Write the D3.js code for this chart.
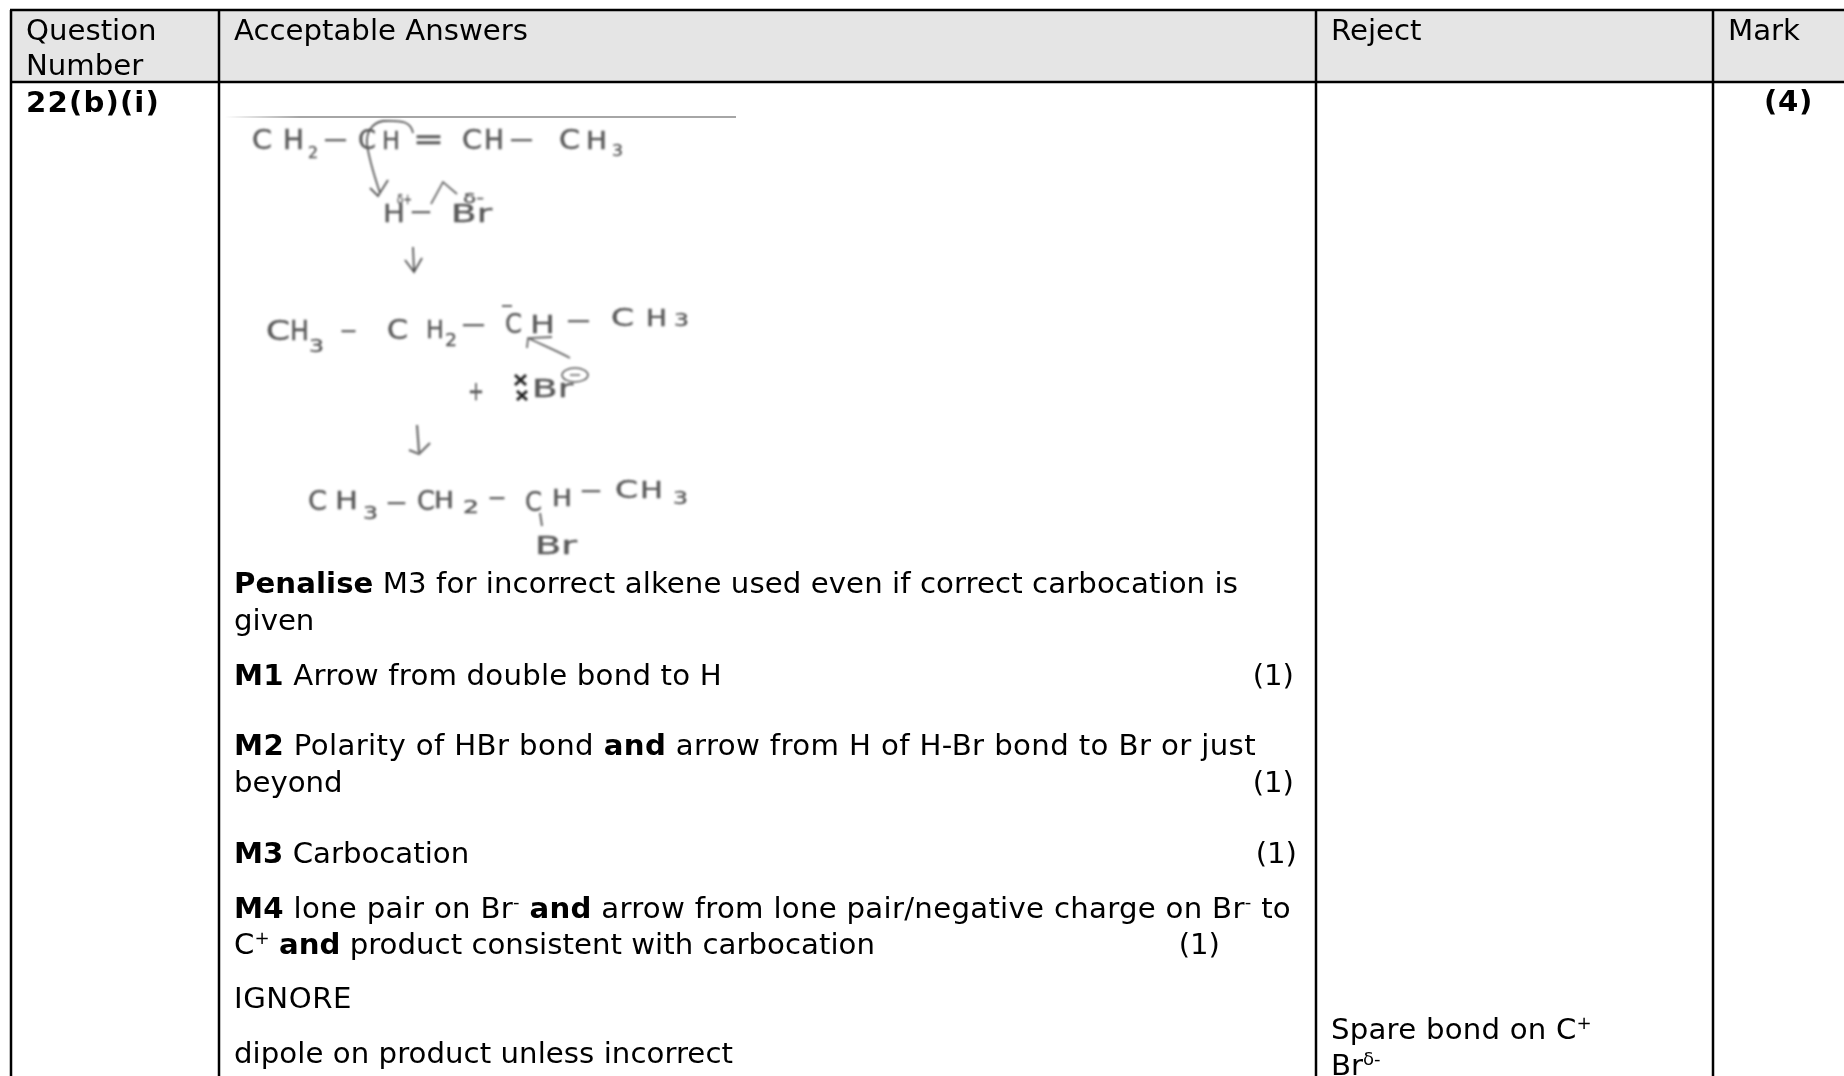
<!DOCTYPE html>
<html><head><meta charset="utf-8">
<style>html,body{margin:0;padding:0;background:#fff;overflow:hidden}svg{display:block}
text{font-family:"DejaVu Sans",sans-serif}</style>
<script src="https://cdn.jsdelivr.net/npm/d3@7/dist/d3.min.js"></script></head><body>
<script>
const columns = ["Question", "Answers", "Reject", "Mark"];
const headerLines = [["Question","Number"],["Acceptable Answers"],["Reject"],["Mark"]];
const questionId = "22(b)(i)";
const markTotal = "(4)";
const answerLines = [
 [["Penalise",1],[" M3 for incorrect alkene used even if correct carbocation is"]],
 [["given"]],
 [["M1",1],[" Arrow from double bond to H"]],
 [["M2",1],[" Polarity of HBr bond "],["and",1],[" arrow from H of H-Br bond to Br or just"]],
 [["beyond"]],
 [["M3",1],[" Carbocation"]],
 [["M4",1],[" lone pair on Br"],["-",0,1],[" "],["and",1],[" arrow from lone pair/negative charge on Br"],["-",0,1],[" to"]],
 [["C"],["+",0,1],[" "],["and",1],[" product consistent with carbocation"]],
 [["IGNORE"]],
 [["dipole on product unless incorrect"]]
];
const markLabels = ["(1)","(1)","(1)","(1)"];
const rejectLines = [[["Spare bond on C"],["+",0,1]],[["Br"],["δ-",0,1]]];
const sketchText = ["C","H","2","—","C","H","=","C","H","—","C","H","3","δ+","H","—","Br","δ-",
 "C","H","3","—","C","H","2","—","C","H","—","C","H","3","Br","+",
 "C","H","3","—","C","H","2","—","C","H","—","C","H","3","Br"];

// layout (separate from content)
const W=1844,H=1076;
const colX=d3.scaleOrdinal(columns,[11,219,1316,1713]);
const textX=d3.scaleOrdinal(columns,[26,234,1331,1728]);
const rowY=d3.scaleOrdinal(["top","head"],[10,82]);
const answerY=[593,630,685,755,792,863,918,954,1008,1063];
const answerEnd=[1238,0,722,1256,0,0,1291,875,352,733];
const markX=[1294,1294,1297,1220];
const markY=[685,792,863,954];
const rejectY=[1039,1075];
const rejectEnd=[1592,0];
const FS=29.2;

const svg=d3.select("body").append("svg").attr("width",W).attr("height",H);
const defs=svg.append("defs");
defs.append("filter").attr("id","b").attr("x","-20%").attr("y","-40%").attr("width","140%").attr("height","180%")
  .append("feGaussianBlur").attr("stdDeviation",0.95);
defs.append("filter").attr("id","t").attr("filterUnits","userSpaceOnUse").attr("x",0).attr("y",0).attr("width",W).attr("height",H)
  .append("feGaussianBlur").attr("stdDeviation",0.3);
const grad=defs.append("linearGradient").attr("id","fade").attr("gradientUnits","userSpaceOnUse").attr("x1",225).attr("x2",300).attr("y1",0).attr("y2",0);
grad.append("stop").attr("offset",0).attr("stop-color","#fff");
grad.append("stop").attr("offset",1).attr("stop-color","#888");

svg.append("rect").attr("x",colX("Question")).attr("y",rowY("top")).attr("width",W).attr("height",rowY("head")-rowY("top")).attr("fill","#e5e5e5");

const rules=svg.append("g").attr("stroke","#000").attr("stroke-width",2.5);
rowY.domain().forEach(r=>rules.append("line").attr("x1",colX("Question")-1).attr("x2",W).attr("y1",rowY(r)).attr("y2",rowY(r)));
columns.forEach(c=>rules.append("line").attr("x1",colX(c)).attr("x2",colX(c)).attr("y1",rowY("top")).attr("y2",H));

function rich(g,x,y,runs,end=0,fs=FS){
  const t=g.append("text").attr("x",x).attr("y",y).attr("font-size",fs).attr("fill","#000").style("white-space","pre");
  let prevSup=false;
  runs.forEach(([s,b,sup])=>{
    const sp=t.append("tspan").text(s);
    if(b)sp.attr("font-weight","bold");
    if(sup)sp.attr("font-size",fs*.62).attr("dy",-fs*.35);
    else if(prevSup)sp.attr("dy",fs*.35);
    prevSup=!!sup;
  });
  if(end){
    const n=t.text().length, len=t.node().getComputedTextLength();
    t.style("letter-spacing",((end-x-len)/n)+"px");
  }
  return t;
}
const body=svg.append("g").attr("filter","url(#t)");
headerLines.forEach((ls,i)=>ls.forEach((l,j)=>rich(body,textX(columns[i]),[40,75][j],[[l]])));
rich(body,textX("Question"),112,[[questionId,1]],160);
rich(body,1764,111,[[markTotal,1]],1813);
answerLines.forEach((l,i)=>rich(body,textX("Answers"),answerY[i],l,answerEnd[i]));
markLabels.forEach((m,i)=>rich(body,markX[i],markY[i],[[m]]).attr("text-anchor","end"));
rejectLines.forEach((l,i)=>rich(body,textX("Reject"),rejectY[i],l,rejectEnd[i]));

// handwritten scheme: glyph boxes [x0,x1,baseline,size]
const sketchBox=[
[252,272,149,26],[283,304,149,26],[308,318,158,15],[324,347,147,26],[358,376,149,26],[382,400,149,24],[413,444,149,30],[462,482,149,26],[484,504,149,26],[510,533,147,26],[559,580,149,26],[586,607,149,24],[612,623,156,15],
[397,412,204,14],[383,405,222,24],[411,431,219,24],[451,492,222,24],[463,484,203,14],
[266,290,340,27],[290,309,340,27],[309,324,352,18],[341,356,338,24],[387,408,339,27],[426,444,338,24],[445,457,346,18],[462,485,332,26],[505,522,333,27],[530,555,333,25],[567,590,328,26],[611,634,326,25],[646,667,326,23],[674,689,326,17],
[532,573,397,24],[468,484,400,26],
[308,327,510,27],[335,358,509,25],[363,378,519,18],[387,406,510,26],[417,435,510,27],[434,454,508,23],[463,479,513,17],[489,505,505,26],[525,542,511,27],[552,572,506,23],[581,601,498,26],[615,638,498,25],[640,663,498,23],[673,688,504,17],
[535,577,554,24]];
const sk=svg.append("g").attr("filter","url(#b)").attr("fill","#5a5a5a").attr("stroke","#5a5a5a");
sk.selectAll("text").data(sketchText).join("text")
  .attr("x",(d,i)=>sketchBox[i][0]).attr("y",(d,i)=>sketchBox[i][2])
  .attr("font-size",(d,i)=>sketchBox[i][3]).attr("stroke-width",.4)
  .attr("textLength",(d,i)=>sketchBox[i][1]-sketchBox[i][0]).attr("lengthAdjust","spacingAndGlyphs").text(d=>d);

const strokes=[
 {p:"M413 133C411 122 403 120 383 121C372 123 366 132 367 144C369 160 375 178 380 193",w:1.8,c:"#555"},
 {p:"M370 188L378 196L388 180",w:1.8,c:"#555"},
 {p:"M431 204L443 182L457 194",w:1.7,c:"#666"},
 {p:"M413 247L414 271M405 260L414 272L422 258",w:1.8,c:"#555"},
 {p:"M570 358C555 350 540 344 528 338M527 348L528 338L552 337",w:1.8,c:"#666"},
 {p:"M502 306H512",w:2,c:"#666"},
 {p:"M515 375L526 385M526 375L515 385M517 391L527 400M527 391L517 400",w:3,c:"#222"},
 {p:"M417 425L419 452M409 450L419 454L430 443",w:2.2,c:"#666"},
 {p:"M540 513L542 526",w:2,c:"#666"},
 {p:"M570 375H580",w:1.5,c:"#666"}
];
sk.selectAll("path").data(strokes).join("path").attr("d",d=>d.p).attr("fill","none").attr("stroke",d=>d.c).attr("stroke-width",d=>d.w);
sk.append("ellipse").attr("cx",575).attr("cy",375).attr("rx",13).attr("ry",7).attr("fill","none").attr("stroke-width",1.5);
svg.append("line").attr("x1",225).attr("x2",736).attr("y1",117).attr("y2",117.01).attr("stroke","url(#fade)").attr("stroke-width",1.5);
</script></body></html>
